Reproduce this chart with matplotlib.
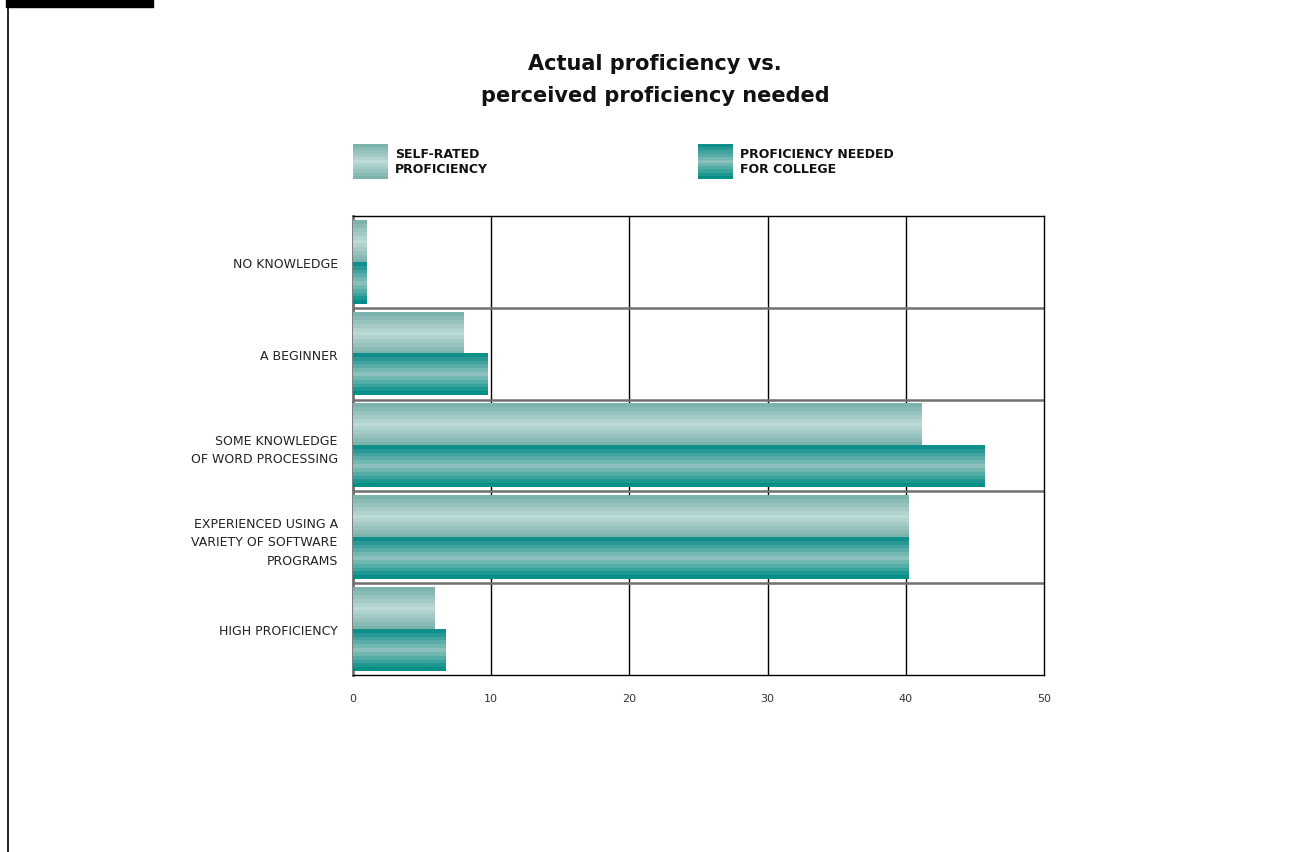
import numpy as np
import matplotlib.pyplot as plt
from matplotlib.colors import LinearSegmentedColormap
from matplotlib.patches import Rectangle

plt.rcParams['font.family'] = ['DejaVu Sans']

categories = ['NO KNOWLEDGE', 'A BEGINNER', 'SOME KNOWLEDGE\nOF WORD PROCESSING',
              'EXPERIENCED USING A\nVARIETY OF SOFTWARE\nPROGRAMS', 'HIGH PROFICIENCY']
self_rated = [1.0, 8.0, 41.1, 40.2, 5.9]
needed = [1.0, 9.7, 45.7, 40.2, 6.7]
series_names = ['SELF-RATED\nPROFICIENCY', 'PROFICIENCY NEEDED\nFOR COLLEGE']
xticks = [0, 10, 20, 30, 40, 50]

# banded "cylinder" shading for each series
light_cmap = LinearSegmentedColormap.from_list('light', ['#7db3af', '#bddbd7', '#7db3af'])
dark_cmap = LinearSegmentedColormap.from_list('dark', ['#0f8f89', '#8cc1bd', '#038f87'])
grad = np.linspace(0, 1, 11).reshape(-1, 1)

fig = plt.figure(figsize=(12.99, 8.53), dpi=100)
ax = fig.add_axes([353 / 1299, 1 - 676 / 853, 691 / 1299, 459 / 853])

h = 0.455
for i in range(len(categories)):
    # upper bar: self-rated, lower bar: needed
    ax.imshow(grad, cmap=light_cmap, aspect='auto', interpolation='nearest',
              extent=[0, self_rated[i], i + 0.01, i - h], zorder=3)
    ax.imshow(grad, cmap=dark_cmap, aspect='auto', interpolation='nearest',
              extent=[0, needed[i], i + h, i], zorder=3)

ax.set_xlim(0, 50)
ax.set_ylim(len(categories) - 0.5, -0.5)

for x in xticks[1:-1]:
    ax.axvline(x, color='black', lw=1, zorder=1)
for y in np.arange(0.5, len(categories) - 0.5):
    ax.axhline(y, color='#707070', lw=1.8, zorder=2)

ax.set_xticks(xticks)
ax.set_xticklabels([str(x) for x in xticks], fontsize=8, color='#333333')
ax.set_yticks(range(len(categories)))
ax.set_yticklabels(categories, fontsize=9, color='#222222', linespacing=1.55)
ax.tick_params(length=0)
ax.tick_params(axis='x', pad=13)
ax.tick_params(axis='y', pad=11)
for s in ax.spines.values():
    s.set_color('black')
    s.set_linewidth(1)
ax.spines['left'].set_color('#707070')
ax.spines['left'].set_linewidth(2)

fig.text(655 / 1299, 1 - 80 / 853, 'Actual proficiency vs.\nperceived proficiency needed',
         ha='center', va='center', fontsize=15, fontweight='bold', color='#111111',
         linespacing=1.8)

# legend swatches
for x0, cmap, name in [(353, light_cmap, series_names[0]), (698, dark_cmap, series_names[1])]:
    lax = fig.add_axes([x0 / 1299, 1 - 180 / 853, 35 / 1299, 35 / 853])
    lax.imshow(grad, cmap=cmap, aspect='auto', interpolation='nearest')
    lax.axis('off')
    fig.text((x0 + 42) / 1299, 1 - 162 / 853, name, ha='left', va='center',
             fontsize=9, fontweight='bold', color='#111111', linespacing=1.25)

# page marks
fig.add_artist(Rectangle((6 / 1299, 1 - 8 / 853), 147 / 1299, 8 / 853,
                         transform=fig.transFigure, color='black'))
fig.add_artist(plt.Line2D([7.5 / 1299, 7.5 / 1299], [0, 1 - 8 / 853],
                          transform=fig.transFigure, color='black', lw=1.2))

fig.savefig('out.png', dpi=100)
